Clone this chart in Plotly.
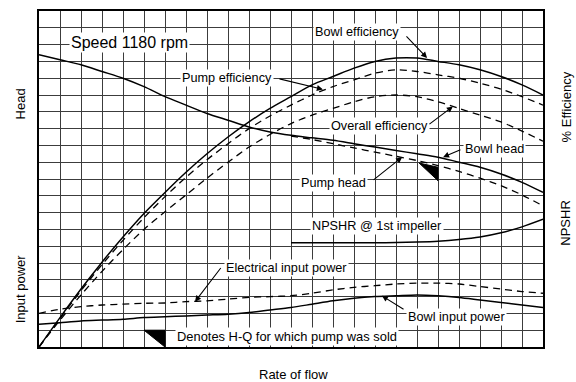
import plotly.graph_objects as go

# ---------------- data (grid units: 24 flow divisions, 20 vertical divisions) ----------------
flow = list(range(25))
bowl_head = [17.4, 17.1, 16.8, 16.4, 16.0, 15.5, 14.9, 14.4, 13.9, 13.5, 13.1, 12.8, 12.6,
             12.45, 12.3, 12.1, 11.9, 11.7, 11.5, 11.3, 11.0, 10.7, 10.3, 9.8, 9.2]
flow_hi = list(range(12, 25))
pump_head = [12.55, 12.35, 12.1, 11.85, 11.6, 11.35, 11.1, 10.8, 10.45, 10.05, 9.6, 9.05, 8.4]
npshr = [6.2, 6.2, 6.2, 6.2, 6.2, 6.22, 6.25, 6.3, 6.4, 6.55, 6.8, 7.15, 7.6]
bowl_eff = [0.0, 1.75, 3.45, 5.05, 6.55, 7.95, 9.2, 10.4, 11.5, 12.5, 13.4, 14.2, 14.9,
            15.6, 16.1, 16.6, 17.0, 17.2, 17.2, 17.0, 16.8, 16.5, 16.1, 15.6, 15.0]
pump_eff = [0.0, 1.7, 3.35, 4.9, 6.35, 7.7, 8.95, 10.1, 11.15, 12.1, 13.0, 13.75, 14.4,
            15.0, 15.5, 15.9, 16.3, 16.5, 16.4, 16.2, 16.0, 15.7, 15.35, 14.9, 14.4]
overall_eff = [0.0, 1.6, 3.1, 4.5, 5.8, 7.0, 8.05, 9.05, 10.05, 11.0, 11.9, 12.65, 13.3,
               13.8, 14.2, 14.6, 14.9, 15.0, 14.9, 14.6, 14.2, 13.8, 13.4, 12.85, 12.25]
elec_power = [2.0, 2.25, 2.4, 2.5, 2.55, 2.6, 2.62, 2.7, 2.75, 2.85, 2.95, 3.0, 3.05,
              3.2, 3.4, 3.55, 3.65, 3.75, 3.8, 3.8, 3.75, 3.6, 3.45, 3.3, 3.2]
bowl_power = [1.35, 1.45, 1.55, 1.6, 1.65, 1.75, 1.8, 1.85, 1.9, 1.95, 2.05, 2.2, 2.35,
              2.55, 2.75, 2.9, 3.0, 3.05, 3.1, 3.05, 2.95, 2.8, 2.65, 2.5, 2.35]
sold_tri_x = [18.1, 19.0, 19.0, 18.1]
sold_tri_y = [10.95, 10.7, 9.9, 10.95]
key_tri_x = [5.0, 6.0, 6.0, 5.0]
key_tri_y = [1.0, 1.0, 0.0, 1.0]

FONT = "Liberation Sans, Arial, sans-serif"
SOLID = dict(color="black", width=1.5, shape="spline", smoothing=0.8)
DASH = dict(color="black", width=1.3, dash="7px,5px", shape="spline", smoothing=0.8)

fig = go.Figure()

def add(x, y, line):
    fig.add_trace(go.Scatter(x=x, y=y, mode="lines", line=line, hoverinfo="skip"))

add(flow, bowl_head, SOLID)
add(flow_hi, pump_head, DASH)
add(flow_hi, npshr, SOLID)
add(flow, bowl_eff, SOLID)
add(flow, pump_eff, DASH)
add(flow, overall_eff, DASH)
add(flow, elec_power, DASH)
add(flow, bowl_power, SOLID)

for tx, ty in ((sold_tri_x, sold_tri_y), (key_tri_x, key_tri_y)):
    fig.add_trace(go.Scatter(x=tx, y=ty, mode="lines", fill="toself", fillcolor="black",
                             line=dict(color="black", width=1), hoverinfo="skip"))

# ---------------- labels ----------------
labels = [
    ("Speed 1180 rpm", 4.33, 18.1, 16),
    ("Bowl efficiency", 15.14, 18.76, 12.7),
    ("Pump efficiency", 8.95, 16.04, 12.7),
    ("Overall efficiency", 16.2, 13.14, 12.7),
    ("Bowl head", 21.7, 11.78, 12.7),
    ("Pump head", 14.0, 9.76, 12.7),
    ("NPSHR @ 1st impeller", 16.1, 7.2, 12.7),
    ("Electrical input power", 11.8, 4.73, 12.7),
    ("Bowl input power", 19.9, 1.78, 12.7),
    ("Denotes H-Q for which pump was sold", 11.8, 0.62, 12.9),
]
ann = []
for t, x, y, s in labels:
    ann.append(dict(text=t, x=x, y=y, xref="x", yref="y", showarrow=False,
                    xanchor="center", yanchor="middle",
                    bgcolor="white", borderpad=1, font=dict(family=FONT, size=s, color="black")))

arrows = [  # (tail_x, tail_y, tip_x, tip_y)
    (17.43, 18.58, 18.48, 17.2),
    (11.38, 15.98, 13.52, 15.33),
    (18.52, 13.2, 19.71, 14.32),
    (20.14, 11.78, 19.24, 11.3),
    (15.86, 9.88, 17.29, 11.3),
    (8.71, 4.79, 7.43, 2.7),
    (17.43, 2.19, 16.33, 3.05),
]
for ax_, ay_, x, y in arrows:
    ann.append(dict(text="", x=x, y=y, ax=ax_, ay=ay_, xref="x", yref="y", axref="x", ayref="y",
                    showarrow=True, arrowhead=2, arrowsize=1.1, arrowwidth=1.1, arrowcolor="black",
                    standoff=0, startstandoff=0))

def side(t, xp, yp, angle=-90):
    return dict(text=t, x=xp, y=yp, xref="paper", yref="paper", showarrow=False, textangle=angle,
                xanchor="center", yanchor="middle",
                font=dict(family=FONT, size=13, color="black"))

# plot-area edges in window pixels
W0, W1, H0, H1 = 39, 543, 9, 347
px = lambda v: (v - W0) / (W1 - W0)
py = lambda v: (H1 - v) / (H1 - H0)
ann += [side("Head", px(20), py(103)), side("Input power", px(20), py(289)),
        side("% Efficiency", px(566), py(106)), side("NPSHR", px(566), py(222)),
        side("Rate of flow", px(293), py(375), 0)]

axis = dict(range=[0, 24], dtick=1, showticklabels=False, ticks="", showgrid=True,
            gridcolor="#3c3c3c", gridwidth=1, zeroline=False, showline=True, linecolor="black",
            linewidth=1.6, mirror=True, fixedrange=True)
fig.update_layout(
    width=576, height=382,
    margin=dict(l=W0, r=576 - W1, t=H0, b=382 - H1),
    paper_bgcolor="white", plot_bgcolor="white", showlegend=False,
    xaxis=axis, yaxis={**axis, "range": [0, 20]},
    annotations=ann, font=dict(family=FONT),
)
fig.write_html("out.html", config={"displayModeBar": False, "staticPlot": True},
               post_script="document.body.style.margin='0';document.body.style.overflow='hidden';")
